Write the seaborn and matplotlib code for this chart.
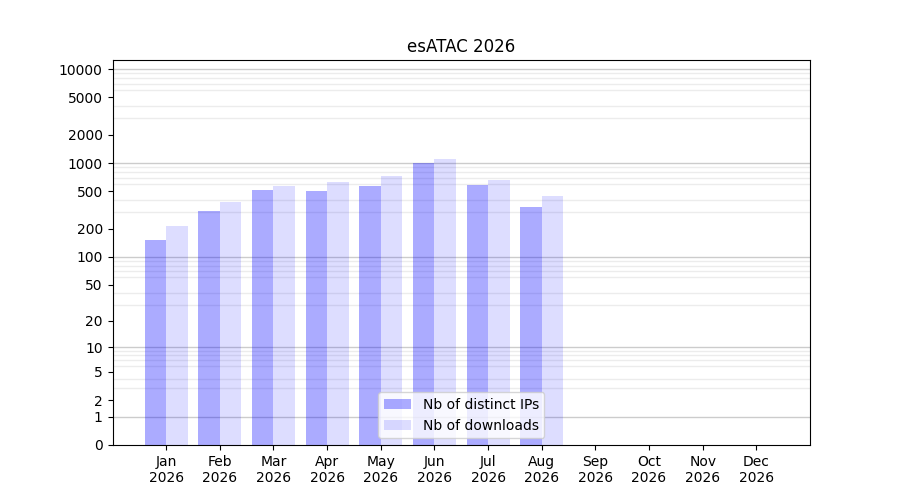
import numpy as np
import pandas as pd
import matplotlib
matplotlib.use('Agg')
import matplotlib.pyplot as plt
from matplotlib.patches import Patch
import seaborn as sns

# donnees
mois = ['Jan', 'Feb', 'Mar', 'Apr', 'May', 'Jun', 'Jul', 'Aug', 'Sep', 'Oct', 'Nov', 'Dec']
annee = '2026'
mois_avec_donnees = ['Jan', 'Feb', 'Mar', 'Apr', 'May', 'Jun', 'Jul', 'Aug']
nb_ips = [151, 308, 515, 503, 569, 1000, 583, 340]
nb_downloads = [213, 384, 569, 628, 727, 1103, 659, 445]
y_ticks = [0, 1, 2, 5, 10, 20, 50, 100, 200, 500, 1000, 2000, 5000, 10000]

label_ips = 'Nb of distinct IPs'
label_dl = 'Nb of downloads'

df = pd.DataFrame({
    'mois': mois_avec_donnees * 2,
    'valeur': nb_ips + nb_downloads,
    'serie': [label_ips] * len(nb_ips) + [label_dl] * len(nb_downloads),
})

couleurs = {label_ips: (0, 0, 1, 0.33), label_dl: (0, 0, 1, 0.135)}

fig, ax = plt.subplots(figsize=(9, 5), dpi=100)

# echelle log10(1+x)
def fwd(x):
    return np.log10(1 + np.clip(x, 0, None))

def inv(y):
    return 10 ** y - 1

ax.set_yscale('function', functions=(fwd, inv))

sns.barplot(data=df, x='mois', y='valeur', hue='serie', order=mois,
            hue_order=[label_ips, label_dl], ax=ax, width=0.8, linewidth=0)

# couleurs transparentes
for cont, lab in zip(ax.containers, [label_ips, label_dl]):
    for p in cont.patches:
        p.set_facecolor(couleurs[lab])
        p.set_edgecolor('none')

ax.set_ylim(0, 12500)
ax.set_xlim(-1, 12)

# grille
decades = [1, 10, 100, 1000, 10000]
mineurs = [m * d for d in [1, 10, 100, 1000] for m in range(2, 10)]
ax.set_yticks(mineurs, minor=True)
ax.tick_params(axis='y', which='minor', length=0)
ax.grid(which='minor', axis='y', color='gray', alpha=0.15, linewidth=1)
for d in decades:
    ax.axhline(d, color='gray', alpha=0.4, linewidth=1, zorder=0.5)

ax.set_yticks(y_ticks)
ax.set_yticklabels([str(t) for t in y_ticks])
ax.set_xticks(range(len(mois)))
ax.set_xticklabels([m + '\n' + annee for m in mois])
ax.set_xlabel('')
ax.set_ylabel('')
ax.set_axisbelow(True)

ax.set_title('esATAC ' + annee)

handles = [Patch(facecolor=couleurs[label_ips], label=label_ips),
           Patch(facecolor=couleurs[label_dl], label=label_dl)]
ax.legend(handles=handles, loc='lower center')

plt.savefig('out.png', dpi=100)
